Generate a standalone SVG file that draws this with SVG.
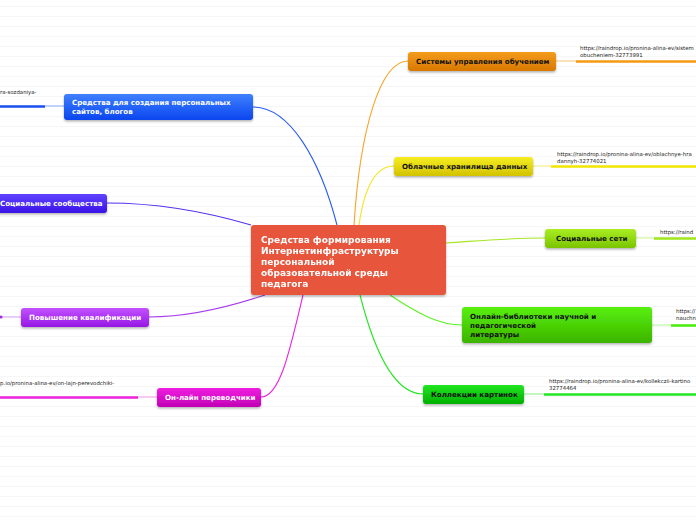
<svg xmlns="http://www.w3.org/2000/svg" width="696" height="520" viewBox="0 0 696 520">
<style>
.lbl{font-family:"DejaVu Sans",Verdana,sans-serif;font-weight:bold;font-size:7.1px}
.dk{fill:#111}
.wt{fill:#fff}
.url{font-family:"DejaVu Sans",Verdana,sans-serif;font-size:5.4px;fill:#222}
.c{fill:none;stroke-width:1.1}
.t{fill:none;stroke-width:2.6}
.n{filter:url(#sh)}
</style>
<defs>
<pattern id="bg" width="696" height="10" patternUnits="userSpaceOnUse" y="6">
<line x1="0" y1="0.5" x2="696" y2="0.5" stroke="#f6f6f6" stroke-width="1"/>
</pattern>
<filter id="sh" x="-10%" y="-20%" width="120%" height="160%">
<feDropShadow dx="0" dy="1.5" stdDeviation="1.2" flood-color="#000" flood-opacity="0.3"/>
</filter>
<linearGradient id="gO" x1="0" y1="0" x2="0" y2="1"><stop offset="0" stop-color="#f49c1c"/><stop offset="1" stop-color="#d87800"/></linearGradient>
<linearGradient id="gY" x1="0" y1="0" x2="0" y2="1"><stop offset="0" stop-color="#f6ee22"/><stop offset="1" stop-color="#d2c200"/></linearGradient>
<linearGradient id="gL" x1="0" y1="0" x2="0" y2="1"><stop offset="0" stop-color="#aaee22"/><stop offset="1" stop-color="#7ac400"/></linearGradient>
<linearGradient id="gG" x1="0" y1="0" x2="0" y2="1"><stop offset="0" stop-color="#58f00c"/><stop offset="1" stop-color="#3cb400"/></linearGradient>
<linearGradient id="gG2" x1="0" y1="0" x2="0" y2="1"><stop offset="0" stop-color="#22e622"/><stop offset="1" stop-color="#00b000"/></linearGradient>
<linearGradient id="gB" x1="0" y1="0" x2="0" y2="1"><stop offset="0" stop-color="#3f80ff"/><stop offset="1" stop-color="#0a46ee"/></linearGradient>
<linearGradient id="gV" x1="0" y1="0" x2="0" y2="1"><stop offset="0" stop-color="#5f44ff"/><stop offset="1" stop-color="#3a12e6"/></linearGradient>
<linearGradient id="gP" x1="0" y1="0" x2="0" y2="1"><stop offset="0" stop-color="#c252ff"/><stop offset="1" stop-color="#9618e4"/></linearGradient>
<linearGradient id="gM" x1="0" y1="0" x2="0" y2="1"><stop offset="0" stop-color="#f01ee0"/><stop offset="1" stop-color="#c000b4"/></linearGradient>
</defs>
<rect width="696" height="520" fill="#fff"/>
<rect width="696" height="520" fill="url(#bg)"/>

<g id="connectors">
<path class="c" stroke="#f5a52a" d="M354,225 C360,130 380,61 408,61"/>
<path class="c" stroke="#f2e61c" d="M359,225 C364,190 374,166 394,166"/>
<path class="c" stroke="#a6e624" d="M446,243 C490,240 510,238 545,238"/>
<path class="c" stroke="#5cf022" d="M390,295 C420,315 440,325 462,325"/>
<path class="c" stroke="#22e622" d="M360,295 C374,350 394,394 423,394"/>
<path class="c" stroke="#2a5cf2" d="M337,225 C320,160 290,107 253,107"/>
<path class="c" stroke="#5530ee" d="M251,225 C200,210 150,203 107,203"/>
<path class="c" stroke="#a83cee" d="M265,295 C220,310 180,317 149,317"/>
<path class="c" stroke="#ee22dc" d="M303,295 C290,350 280,397 261,397"/>

<path class="c" stroke="#f8c880" d="M556,61 L576,61"/>
<path class="t" stroke="#f59a10" d="M576,61.5 L696,61.5"/>
<path class="c" stroke="#f6ee90" d="M533,166 L551,166"/>
<path class="t" stroke="#f2e600" d="M551,166.5 L696,166.5"/>
<path class="c" stroke="#cff590" d="M636,238 L654,238"/>
<path class="t" stroke="#a0e61a" d="M654,238.5 L696,238.5"/>
<path class="c" stroke="#b8f8a0" d="M652,325 L671,325"/>
<path class="t" stroke="#50ee10" d="M671,325.5 L696,325.5"/>
<path class="c" stroke="#90f090" d="M524,394 L544,394"/>
<path class="t" stroke="#22e622" d="M544,394.5 L696,394.5"/>
<path class="c" stroke="#90b0ff" d="M64,106 L45,106"/>
<path class="t" stroke="#1a50f0" d="M0,106.5 L45,106.5"/>
<path class="c" stroke="#d8a8f8" d="M21,317 L2,317"/>
<circle cx="1" cy="317" r="1.6" fill="#a030e8"/>
<path class="c" stroke="#f8a0f0" d="M157,397 L138,397"/>
<path class="t" stroke="#ee22dc" d="M0,397.5 L138,397.5"/>
</g>

<g id="center" class="n">
<rect x="251" y="225" width="195" height="70" rx="3" fill="#e8553c"/>
<text font-family="DejaVu Sans,Verdana,sans-serif" font-weight="bold" font-size="9" fill="#fff">
<tspan x="261" y="243">Средства формирования</tspan>
<tspan x="261" y="254">Интернетинфраструктуры</tspan>
<tspan x="261" y="265">персональной</tspan>
<tspan x="261" y="276">образовательной среды</tspan>
<tspan x="261" y="287">педагога</tspan>
</text>
</g>

<g id="n-lms">
<rect class="n" x="408" y="52" width="148" height="19" rx="3" fill="url(#gO)"/>
<text class="lbl dk" x="416" y="64">Системы управления обучением</text>
<text class="url"><tspan x="580" y="50">https://raindrop.io/pronina-alina-ev/sistem</tspan><tspan x="580" y="57">obucheniem-32773991</tspan></text>
</g>

<g id="n-cloud">
<rect class="n" x="394" y="157" width="139" height="19" rx="3" fill="url(#gY)"/>
<text class="lbl dk" x="402" y="169">Облачные хранилища данных</text>
<text class="url"><tspan x="557" y="156">https://raindrop.io/pronina-alina-ev/oblachnye-hra</tspan><tspan x="557" y="163">dannyh-32774021</tspan></text>
</g>

<g id="n-social">
<rect class="n" x="545" y="229" width="91" height="19" rx="3" fill="url(#gL)"/>
<text class="lbl dk" x="556" y="241">Социальные сети</text>
<text class="url"><tspan x="660" y="234">https://raind</tspan></text>
</g>

<g id="n-lib">
<rect class="n" x="462" y="307" width="190" height="36" rx="3" fill="url(#gG)"/>
<text class="lbl dk"><tspan x="470" y="319">Онлайн-библиотеки научной и</tspan><tspan x="470" y="328">педагогической</tspan><tspan x="470" y="337">литературы</tspan></text>
<text class="url"><tspan x="676" y="313">https://</tspan><tspan x="676" y="320">nauchn</tspan></text>
</g>

<g id="n-pics">
<rect class="n" x="423" y="385" width="101" height="19" rx="3" fill="url(#gG2)"/>
<text class="lbl dk" x="431" y="397">Коллекции картинок</text>
<text class="url"><tspan x="549" y="383">https://raindrop.io/pronina-alina-ev/kollekczii-kartino</tspan><tspan x="549" y="390">32774464</tspan></text>
</g>

<g id="n-sites">
<rect class="n" x="64" y="94" width="189" height="26" rx="3" fill="url(#gB)"/>
<text class="lbl wt"><tspan x="72" y="105">Средства для создания персональных</tspan><tspan x="72" y="114">сайтов, блогов</tspan></text>
<text class="url"><tspan x="0" y="94">ra-sozdaniya-</tspan></text>
</g>

<g id="n-communities">
<rect class="n" x="-10" y="194" width="117" height="19" rx="3" fill="url(#gV)"/>
<text class="lbl wt" x="0" y="206">Социальные сообщества</text>
</g>

<g id="n-qual">
<rect class="n" x="21" y="308" width="128" height="19" rx="3" fill="url(#gP)"/>
<text class="lbl wt" x="29" y="320">Повышение квалификации</text>
</g>

<g id="n-transl">
<rect class="n" x="157" y="388" width="104" height="19" rx="3" fill="url(#gM)"/>
<text class="lbl wt" x="165" y="400">Он-лайн переводчики</text>
<text class="url"><tspan x="0" y="385">p.io/pronina-alina-ev/on-lajn-perevodchiki-</tspan></text>
</g>
</svg>
